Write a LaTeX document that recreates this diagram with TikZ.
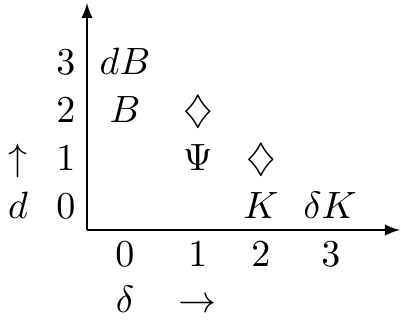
\documentclass[tikz,border=0pt]{standalone}
\usepackage{amssymb}
\begin{document}
\begin{tikzpicture}[x=0.263pt,y=-0.263pt,
  lab/.style={anchor=base,inner sep=0pt,outer sep=0pt},
  axis/.style={line width=0.4pt,-latex}]
\useasboundingbox (0,0) rectangle (401,320);
% axes
\coordinate (o) at (87,230);
\coordinate (top) at (87,3);
\coordinate (right) at (400,230);
\draw[axis] (o) -- (top);
\draw[axis] (o) -- (right);
% row labels
\node[lab] (r3) at (66,74) {$3$};
\node[lab] (r2) at (66,122) {$2$};
\node[lab] (r1) at (66,170) {$1$};
\node[lab] (r0) at (66,218) {$0$};
\node[lab] (up) at (18,170) {$\uparrow$};
\node[lab] (d) at (18,218) {$d$};
% column labels
\node[lab] (c0) at (125,266) {$0$};
\node[lab] (c1) at (198,266) {$1$};
\node[lab] (c2) at (261,266) {$2$};
\node[lab] (c3) at (331,266) {$3$};
\node[lab] (delta) at (125,312) {$\delta$};
\node[lab] (right) at (198,312) {$\rightarrow$};
% entries
\node[lab] (dB) at (125,74) {$dB$};
\node[lab] (B) at (125,122) {$B$};
\node[lab] (D1) at (198,122) {$\diamondsuit$};
\node[lab] (Psi) at (198,170) {$\Psi$};
\node[lab] (D2) at (261,170) {$\diamondsuit$};
\node[lab] (K) at (261,218) {$K$};
\node[lab] (dK) at (330,218) {$\delta K$};
\end{tikzpicture}
\end{document}
